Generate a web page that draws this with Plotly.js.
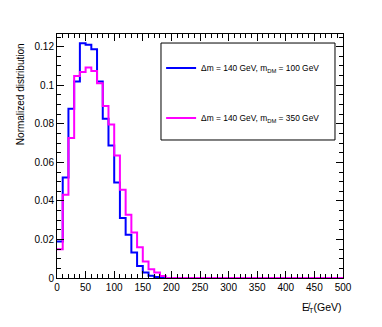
<!DOCTYPE html>
<html>
<head>
<meta charset="utf-8">
<script src="https://cdn.plot.ly/plotly-3.0.1.min.js"></script>
<style>
  body { margin: 0; background: white; }
  #chart { width: 382px; height: 327px; }
</style>
</head>
<body>
<div id="chart"></div>
<script>
// bin width in GeV, histograms run from 0 to 500
const binWidth = 10;
const nBins = 50;

// normalized MET distributions, one value per 10 GeV bin
const blueValues = [
  0.0189, 0.0522, 0.0878, 0.102, 0.1218, 0.121, 0.1187, 0.102, 0.0826, 0.0687,
  0.0496, 0.0311, 0.0224, 0.0132, 0.0062, 0.0028, 0.0012, 0.0005, 0.0002, 0,
  0, 0, 0, 0, 0, 0, 0, 0, 0, 0,
  0, 0, 0, 0, 0, 0, 0, 0, 0, 0,
  0, 0, 0, 0, 0, 0, 0, 0, 0, 0
];
const magentaValues = [
  0.0149, 0.0432, 0.0727, 0.1048, 0.1069, 0.1092, 0.1074, 0.101, 0.0892, 0.0797,
  0.0635, 0.0458, 0.0328, 0.0236, 0.016, 0.0085, 0.0045, 0.0028, 0.001, 0,
  0, 0, 0, 0, 0, 0, 0, 0, 0, 0,
  0, 0, 0, 0, 0, 0, 0, 0, 0, 0,
  0, 0, 0, 0, 0, 0, 0, 0, 0, 0
];

const seriesNames = [
  "\u0394m = 140 GeV, m<sub>DM</sub> = 100 GeV",
  "\u0394m = 140 GeV, m<sub>DM</sub> = 350 GeV"
];
const seriesColors = ["#0000ff", "#ff00ff"];

// step outline: left edge of every bin, plus the last edge
function stepXY(values) {
  const x = [];
  const y = [];
  values.forEach((v, i) => {
    x.push(i * binWidth);
    y.push(v);
  });
  x.push(nBins * binWidth);
  y.push(values[values.length - 1]);
  return { x, y };
}

const traces = [blueValues, magentaValues].map((vals, k) => {
  const s = stepXY(vals);
  return {
    x: s.x,
    y: s.y,
    type: "scatter",
    mode: "lines",
    line: { shape: "hv", color: seriesColors[k], width: 2 },
    name: seriesNames[k],
    legendgroup: "g" + k
  };
});

const font = "'Liberation Sans', Arial, sans-serif";

const axisCommon = {
  showline: true,
  linecolor: "black",
  linewidth: 1,
  mirror: "allticks",
  ticks: "inside",
  tickcolor: "black",
  tickwidth: 1,
  ticklen: 7,
  showgrid: false,
  zeroline: false,
  tickfont: { family: font, size: 10, color: "black" }
};

const layout = {
  width: 382,
  height: 327,
  margin: { l: 57, r: 39, t: 34, b: 49 },
  paper_bgcolor: "white",
  plot_bgcolor: "white",
  showlegend: true,
  xaxis: {
    ...axisCommon,
    range: [0, 500],
    dtick: 50,
    tick0: 0,
    minor: { dtick: 10, ticks: "inside", ticklen: 4, tickcolor: "black" }
  },
  yaxis: {
    ...axisCommon,
    range: [0, 0.1266],
    dtick: 0.02,
    tick0: 0,
    minor: { dtick: 0.005, ticks: "inside", ticklen: 4, tickcolor: "black" }
  },
  legend: {
    x: 0.364,
    y: 0.92,
    xanchor: "left",
    yanchor: "top",
    bgcolor: "rgba(0,0,0,0)",
    borderwidth: 0,
    traceorder: "grouped",
    tracegroupgap: 31,
    font: { family: font, size: 8.4, color: "black" }
  },
  shapes: [
    {
      type: "rect",
      xref: "paper",
      yref: "paper",
      x0: 0.3636,
      x1: 0.972,
      y0: 0.5656,
      y1: 0.963,
      line: { color: "black", width: 1 },
      fillcolor: "white",
      layer: "below"
    }
  ],
  annotations: [
    {
      text: "Normalized distribution",
      xref: "paper",
      yref: "paper",
      x: -0.13,
      y: 0.97,
      xanchor: "center",
      yanchor: "top",
      textangle: -90,
      showarrow: false,
      font: { family: font, size: 10, color: "black" }
    },
    {
      text: "E\u0338<sub>T</sub>(GeV)",
      xref: "paper",
      yref: "paper",
      x: 1.005,
      y: -0.085,
      xanchor: "right",
      yanchor: "top",
      showarrow: false,
      font: { family: font, size: 10.5, color: "black" }
    }
  ]
};

Plotly.newPlot("chart", traces, layout, { staticPlot: true });
</script>
</body>
</html>
